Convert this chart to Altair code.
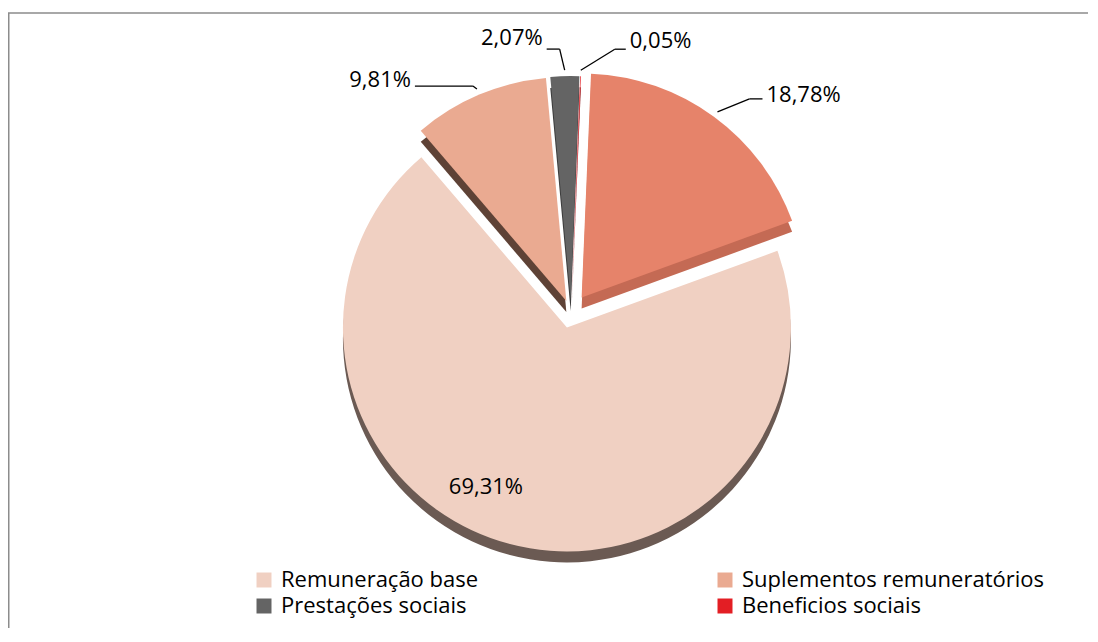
import altair as alt
import pandas as pd

# ---------------- data ----------------
categories = ["Remuneração base", "Suplementos remuneratórios", "Prestações sociais",
              "Beneficios sociais", "Outros encargos"]
shares = [69.31, 9.81, 2.07, 0.05, 18.78]
legend_items = categories[:4]

# ---------------- styles ----------------
face_colors = ["#F0D0C2", "#EAAA91", "#646464", "#E31E24", "#E6836A"]
side_colors = ["#6B5A53", "#5E4236", "#3C3C3C", "#8B1014", "#C46A54"]

W, H = 1080, 620          # whole chart (autosize none)
CX, CY = 563, 304         # pie centre, pixels
R = 224                   # pie radius
RA = 230                  # leader start radius
LR = 173                  # inside label radius
DEPTH = 11                # 3D thickness
ROT = 70                  # first slice angle (degrees)
FONT = "Open Sans"

explode = [16, 12, 12, 12, 18]
elbow_dx = [-37, -4, -5, 34, 32]
elbow_dy = [-8, -3, -21, -21, -13]
tail = [0, -58, -13, 11, 13]
text_dy = [0, -6, -11, -8, -4]
inside = [True, False, False, False, False]

df = pd.DataFrame({
    "category": categories,
    "share": shares,
    "order": list(range(len(categories))),
    "explode": explode,
    "elbow_dx": elbow_dx,
    "elbow_dy": elbow_dy,
    "tail": tail,
    "text_dy": text_dy,
    "inside": inside,
})

base = (
    alt.Chart(df)
    .transform_window(cum="sum(share)", sort=[alt.SortField("order")], frame=[None, 0])
    .transform_joinaggregate(total="sum(share)")
    .transform_calculate(
        a0=f"{ROT}*PI/180 + 2*PI*(datum.cum - datum.share)/datum.total",
        a1=f"{ROT}*PI/180 + 2*PI*datum.cum/datum.total",
    )
    .transform_calculate(mid="(datum.a0 + datum.a1)/2")
    .transform_calculate(sx="sin(datum.mid)", sy="-cos(datum.mid)")
    .transform_calculate(
        px=f"{CX} + datum.explode*datum.sx",
        py=f"{CY} + datum.explode*datum.sy",
    )
    .transform_calculate(
        pyd=f"datum.py + {DEPTH}",
        ax=f"datum.px + {RA}*datum.sx",
        ay=f"datum.py + {RA}*datum.sy",
    )
    .transform_calculate(
        bx="datum.ax + datum.elbow_dx",
        by="datum.ay + datum.elbow_dy",
    )
    .transform_calculate(cx2="datum.bx + datum.tail")
    .transform_calculate(
        tx=f"datum.inside ? datum.px + {LR}*datum.sx + datum.elbow_dx : datum.cx2 + (datum.tail > 0 ? 4 : -4)",
        ty=f"datum.inside ? datum.py + {LR}*datum.sy + datum.elbow_dy : datum.by + datum.text_dy",
        label="replace(format(datum.share, '.2f'), '.', ',') + '%'",
    )
)

# chart frame (top and left edges only; the rest lies outside the page)
frame_df = pd.DataFrame({"fx": [W + 10, 0.75, 0.75], "fy": [5, 5, H + 10], "k": [0, 1, 2]})
frame = alt.Chart(frame_df).mark_line(color="#8C8C8C", strokeWidth=1.5).encode(
    x=alt.X("fx:Q", scale=None), y=alt.Y("fy:Q", scale=None), order="k:Q"
)

side = base.mark_arc(radius=R).encode(
    theta=alt.Theta("a0:Q", scale=None, stack=False),
    theta2="a1:Q",
    x=alt.X("px:Q", scale=None),
    y=alt.Y("pyd:Q", scale=None),
    color=alt.Color("category:N", scale=alt.Scale(domain=categories, range=side_colors), legend=None),
)

face = base.mark_arc(radius=R).encode(
    theta=alt.Theta("a0:Q", scale=None, stack=False),
    theta2="a1:Q",
    x=alt.X("px:Q", scale=None),
    y=alt.Y("py:Q", scale=None),
    color=alt.Color(
        "category:N",
        scale=alt.Scale(domain=categories, range=face_colors),
        legend=alt.Legend(
            title=None, orient="none", legendX=245, legendY=561, columns=2,
            direction="horizontal",
            values=legend_items, symbolType="square", symbolSize=225,
            symbolStrokeWidth=0, labelFont=FONT, labelFontSize=22, labelColor="black",
            labelOffset=6, labelLimit=0, columnPadding=235, rowPadding=4, padding=0,
        ),
    ),
)

outside = base.transform_filter("!datum.inside")

leader1 = outside.mark_rule(color="black", strokeWidth=1.3).encode(
    x=alt.X("ax:Q", scale=None), y=alt.Y("ay:Q", scale=None), x2="bx:Q", y2="by:Q"
)
leader2 = outside.mark_rule(color="black", strokeWidth=1.3).encode(
    x=alt.X("bx:Q", scale=None), y=alt.Y("by:Q", scale=None), x2="cx2:Q", y2="by:Q"
)

txt_style = dict(font=FONT, fontSize=22, color="black", baseline="middle")
text_left = base.transform_filter("!datum.inside && datum.tail > 0").mark_text(align="left", **txt_style).encode(
    x=alt.X("tx:Q", scale=None), y=alt.Y("ty:Q", scale=None), text="label:N"
)
text_right = base.transform_filter("!datum.inside && datum.tail < 0").mark_text(align="right", **txt_style).encode(
    x=alt.X("tx:Q", scale=None), y=alt.Y("ty:Q", scale=None), text="label:N"
)
text_in = base.transform_filter("datum.inside").mark_text(align="center", **txt_style).encode(
    x=alt.X("tx:Q", scale=None), y=alt.Y("ty:Q", scale=None), text="label:N"
)

chart = (
    alt.layer(frame, side, face, leader1, leader2, text_left, text_right, text_in)
    .resolve_scale(color="independent")
    .properties(width=W, height=H, padding=0, background="white",
                autosize=alt.AutoSizeParams(type="none"))
    .configure_view(stroke="transparent", strokeWidth=0)
)

chart.save("out.html", embed_options={"renderer": "svg", "actions": False})
